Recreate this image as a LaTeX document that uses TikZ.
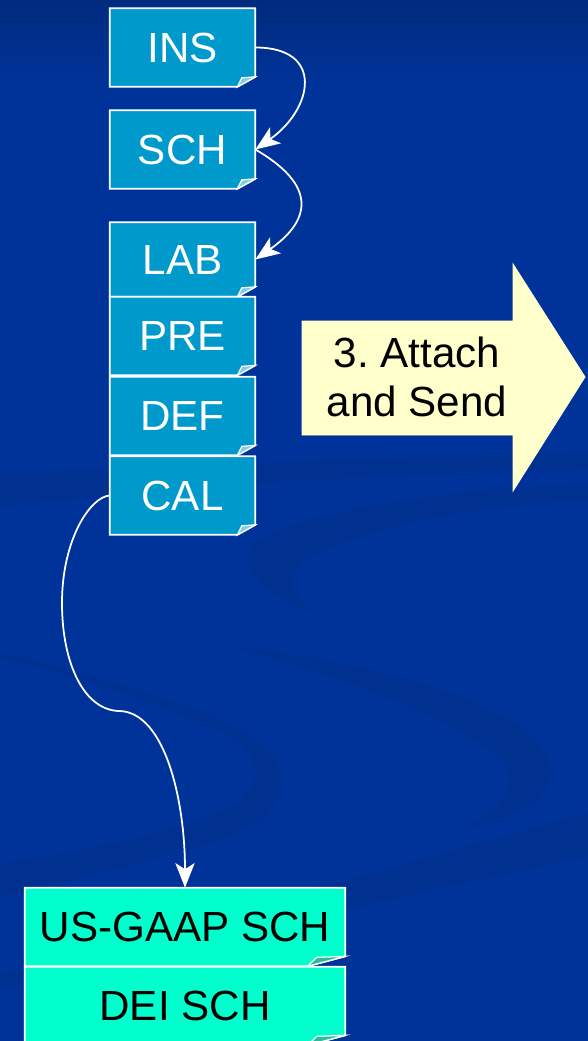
\documentclass[tikz,border=0pt]{standalone}
\usepackage{fontspec}
\setmainfont{Liberation Sans}
\usetikzlibrary{arrows.meta,calc,backgrounds}

\definecolor{bgblue}{HTML}{003399}
\definecolor{bgtop}{HTML}{002A7C}
\definecolor{swoosh}{HTML}{003190}
\definecolor{docteal}{HTML}{0099CC}
\definecolor{docflap}{HTML}{7FCCE6}
\definecolor{docaqua}{HTML}{00FFCC}
\definecolor{aquaflap}{HTML}{26BF99}
\definecolor{noteyellow}{HTML}{FFFFCC}

\begin{document}
\begin{tikzpicture}[x=0.02cm,y=-0.02cm,>={Stealth[length=14pt,width=11pt,inset=3.5pt]},
	doc/.style={rectangle, inner sep=0pt, minimum width=2.9cm, minimum height=1.56cm, text=white, font=\fontsize{24}{28}\selectfont},
	schdoc/.style={doc, minimum width=6.4cm, text=black},
	page/.style={draw=white, line width=1pt},
	link/.style={white, line width=1pt, ->}]
		\useasboundingbox (0,0) rectangle (588,1041);

		\node (ins) at (182.5,47.5)		[doc] {INS};
		\node (sch) at (182.5,149.5)	[doc] {SCH};
		\node (lab) at (182.5,259.5)	[doc, minimum height=1.48cm] {LAB};
		\node (pre) at (182.5,336)		[doc] {PRE};
		\node (def) at (182.5,416)		[doc] {DEF};
		\node (cal) at (182.5,495.5)	[doc] {CAL};
		\node (usgaap) at (185,927)		[schdoc] {US-GAAP SCH};
		\node (dei) at (185,1006)		[schdoc] {DEI SCH};
		\node (attach) at (417,377)		[font=\fontsize{24}{28}\selectfont, align=center, text=black] {3.\ Attach\\and Send};

		\begin{pgfonlayer}{background}
			\fill [bgblue] (0,0) rectangle (588,1041);
			\fill [top color=bgtop, bottom color=bgblue] (0,0) rectangle (588,80);
			% swooshes
			\fill [swoosh] (0,473) .. controls (200,464) and (400,458) .. (588,452) -- (588,470) .. controls (300,476) and (150,490) .. (0,507) -- cycle;
			\fill [swoosh] (588,484) .. controls (400,490) and (240,525) .. (247,560) .. controls (252,585) and (290,605) .. (315,613) .. controls (290,595) and (280,570) .. (320,552) .. controls (380,525) and (480,505) .. (588,500) -- cycle;
			\fill [swoosh] (0,653) .. controls (150,690) and (250,720) .. (275,760) .. controls (295,795) and (270,830) .. (187,850) .. controls (120,870) and (50,885) .. (0,897) -- (0,863) .. controls (60,855) and (200,830) .. (240,800) .. controls (270,775) and (250,745) .. (225,733) .. controls (150,700) and (60,670) .. (0,658) -- cycle;
			\fill [swoosh] (232,647) .. controls (350,660) and (480,690) .. (530,735) .. controls (575,775) and (545,815) .. (461,830) .. controls (510,805) and (520,780) .. (500,760) .. controls (460,720) and (350,680) .. (232,647) -- cycle;
			\fill [swoosh] (0,975) .. controls (200,920) and (400,865) .. (588,813) -- (588,857) .. controls (400,895) and (200,945) .. (0,990) -- cycle;

			\filldraw [fill=noteyellow, draw=noteyellow!85!white, line width=0.5pt] (302,321) -- (513,321) -- (513,264) -- (585,377) -- (513,491) -- (513,435) -- (302,435) -- cycle;

			\foreach \n/\f/\c/\k in {ins/18/docteal/docflap, sch/18/docteal/docflap, lab/18/docteal/docflap, pre/18/docteal/docflap, def/18/docteal/docflap, cal/18/docteal/docflap, usgaap/38/docaqua/aquaflap, dei/38/docaqua/aquaflap} {
				\filldraw [page, fill=\c] (\n.north west) -- (\n.north east) -- ($(\n.south east)+(0,-10)$) -- ($(\n.south east)+(-\f,0)$) -- (\n.south west) -- cycle;
				\filldraw [page, fill=\k, line width=0.7pt] ($(\n.south east)+(-\f,0)$) -- ($(\n.south east)+(-0.75*\f,-9)$) -- ($(\n.south east)+(0,-10)$) -- cycle;
			}
		\end{pgfonlayer}

		\draw [link] (ins.east) to[out=0, in=35, distance=1.4cm] (sch.east);
		\draw [link] (sch.east) to[out=-30, in=35, distance=1.4cm] (lab.east);
		\draw [link] (cal.west) .. controls (90,497) and (62,540) .. (62,603) .. controls (62,665) and (85,711) .. (120,711) .. controls (165,713) and (185,800) .. (usgaap.north);
	\end{tikzpicture}
\end{document}
